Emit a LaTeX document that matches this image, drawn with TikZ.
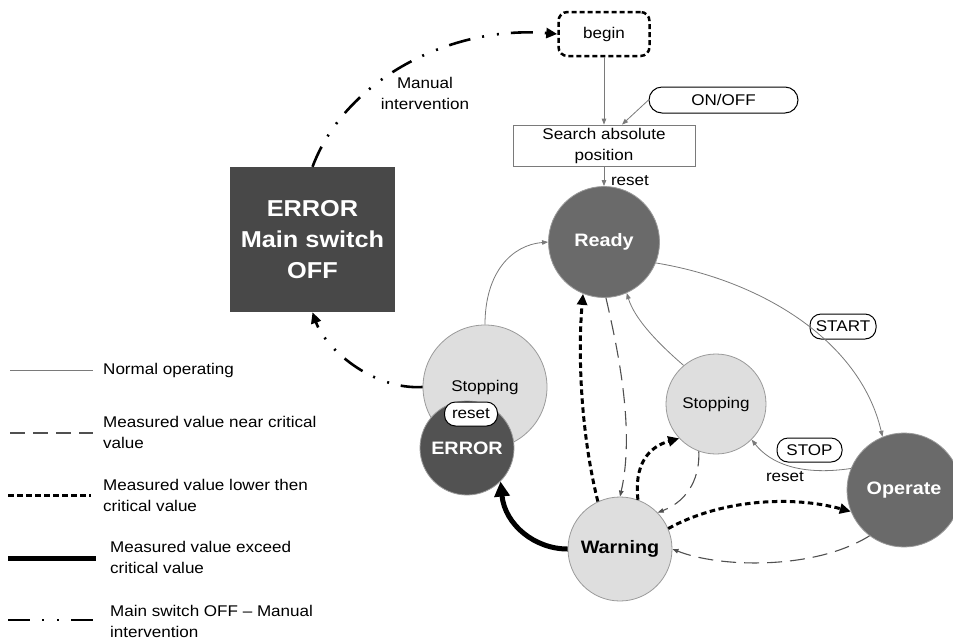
\documentclass[tikz,border=0pt]{standalone}
\usepackage{fontspec}
\setmainfont[FakeStretch=1.1]{Liberation Sans}
\usetikzlibrary{arrows.meta}

\definecolor{lightstate}{HTML}{DEDEDE}
\definecolor{midstate}{HTML}{6A6A6A}
\definecolor{darkstate}{HTML}{525252}
\definecolor{errfill}{HTML}{484848}
\definecolor{rimgray}{HTML}{9A9A9A}
\definecolor{wiregray}{HTML}{7A7A7A}
\definecolor{dashgray}{HTML}{505050}

\begin{document}
\begin{tikzpicture}[x=1pt,y=-1pt,
  every node/.style={font=\fontsize{15.5}{21}\selectfont, inner sep=0pt},
  boldtext/.style={font=\bfseries\fontsize{18}{21}\selectfont},
  lightcircle/.style={circle, fill=lightstate, draw=rimgray, line width=0.8pt, minimum size=#1},
  darkcircle/.style={circle, fill=#1, draw=rimgray, line width=0.8pt, text=white, boldtext},
  pill/.style={rectangle, rounded corners=11pt, draw=black, line width=1pt, minimum height=24pt},
  % line styles shared by the legend and the transitions
  normalline/.style={draw=wiregray, line width=0.8pt},
  nearline/.style={draw=dashgray, line width=1.1pt, dash pattern=on 15pt off 8pt},
  lowline/.style={draw=black, line width=3pt, dash pattern=on 5.5pt off 3.5pt},
  exceedline/.style={draw=black, line width=5pt},
  switchline/.style={draw=black, line width=2.6pt, dash pattern=on 22pt off 12pt on 2pt off 13pt on 2pt off 12pt},
  smalltip/.style={-{Triangle[length=6pt,width=4.5pt]}},
  bigtip/.style={-{Triangle[length=11pt,width=10pt]}},
  hugetip/.style={-{Triangle[length=15pt,width=15pt]}}
]
\useasboundingbox (0,0) rectangle (953,641);

% ---- states ----
\node[rectangle, rounded corners=9pt, draw=black, line width=2.5pt, dash pattern=on 5pt off 3pt,
      fill=white, minimum width=91pt, minimum height=44pt] (begin) at (604,34) {begin};
\node[rectangle, draw=wiregray, line width=0.8pt, minimum width=182pt, minimum height=41pt,
      align=center] (search) at (604,145.5) {Search absolute\\position};
\node[rectangle, rounded corners=13pt, draw=black, line width=1pt, minimum width=149pt,
      minimum height=26pt] (onoff) at (723.5,100) {ON/OFF};

\node[darkcircle=midstate, minimum size=111pt] (ready) at (604,242) {Ready};
\node[darkcircle=midstate, minimum size=114pt] (operate) at (904,490) {Operate};
\node[lightcircle=100pt] (stopR) at (716,404) {Stopping};
\node[lightcircle=104pt, boldtext] (warning) at (620,549) {Warning};
\node[lightcircle=124pt] (stopL) at (485,387) {Stopping};
\node[darkcircle=darkstate, minimum size=94pt] (errC) at (467,448) {ERROR};
\node[pill, fill=white, minimum width=53pt] (rstpill) at (471,414) {reset};

\node[rectangle, fill=errfill, minimum width=165pt, minimum height=145pt, align=center,
      text=white, font=\bfseries\fontsize{23}{31}\selectfont] (errbox) at (312.5,239.5)
      {ERROR\\Main switch\\OFF};

% ---- labels ----
\node[pill, minimum width=66pt, minimum height=25pt] (start) at (843,326.5) {START};
\node[pill, minimum width=65pt] (stop) at (809.5,450) {STOP};
\node (rstready) at (630,181) {reset};
\node (rststop) at (785,477) {reset};
\node[align=center] (manual) at (425,93) {Manual\\intervention};

% ---- normal operation ----
\draw[normalline, smalltip] (begin.south) -- (search.north);
\draw[normalline, smalltip] (onoff.west) -- ([xshift=18pt]search.north);
\draw[normalline, smalltip] (search.south) -- (ready.north);
\draw[normalline, smalltip] (ready.-22) .. controls (760,280) and (860,340) .. (operate.112);
\draw[normalline, smalltip] (operate.158) .. controls (800,476) and (770,463) .. (stopR.-45);
\draw[normalline, smalltip] (stopR.130) .. controls (660,345) and (635,320) .. (ready.-66);
\draw[normalline, smalltip] (stopL.north) .. controls (485,272) and (512,245) .. (ready.west);

% ---- measured value near critical ----
\draw[nearline, smalltip] (ready.-88) .. controls (618,350) and (635,430) .. (warning.north);
\draw[nearline, smalltip] (stopR.-110) .. controls (700,475) and (690,500) .. (warning.44);
\draw[nearline, smalltip] (operate.233) .. controls (815,570) and (720,568) .. (warning.east);

% ---- measured value lower than critical ----
\draw[lowline, bigtip] (warning.115) .. controls (580,430) and (578,350) .. (ready.-112);
\draw[lowline, bigtip] (warning.70) .. controls (634,465) and (648,447) .. (stopR.-137);
\draw[lowline, bigtip] (warning.23) .. controls (720,500) and (790,495) .. (operate.202);

% ---- measured value exceeds critical ----
\draw[exceedline, hugetip] (warning.west) .. controls (535,549) and (505,525) .. (errC.-45);

% ---- main switch off / manual intervention ----
\draw[switchline, bigtip] (stopL.west) .. controls (372,390) and (325,348) .. (errbox.south);
\draw[switchline, bigtip] (errbox.north) .. controls (345,80) and (450,25) .. (begin.west);

% ---- legend ----
\coordinate (la1) at (10,370);  \coordinate (lb1) at (93,370);
\coordinate (la2) at (10,433);  \coordinate (lb2) at (93,433);
\coordinate (la3) at (8,495);   \coordinate (lb3) at (91,495);
\coordinate (la4) at (8,558);   \coordinate (lb4) at (96,558);
\coordinate (la5) at (8,620);   \coordinate (lb5) at (93,620);
\draw[normalline] (la1) -- (lb1);
\draw[nearline] (la2) -- (lb2);
\draw[lowline] (la3) -- (lb3);
\draw[exceedline] (la4) -- (lb4);
\draw[switchline] (la5) -- (lb5);
\node[anchor=west, align=left] (lt1) at (103,370) {Normal operating};
\node[anchor=west, align=left] (lt2) at (103,432.5) {Measured value near critical\\value};
\node[anchor=west, align=left] (lt3) at (103,495) {Measured value lower then\\critical value};
\node[anchor=west, align=left] (lt4) at (110,557.5) {Measured value exceed\\critical value};
\node[anchor=west, align=left] (lt5) at (110,621) {Main switch OFF – Manual\\intervention};
\end{tikzpicture}
\end{document}
